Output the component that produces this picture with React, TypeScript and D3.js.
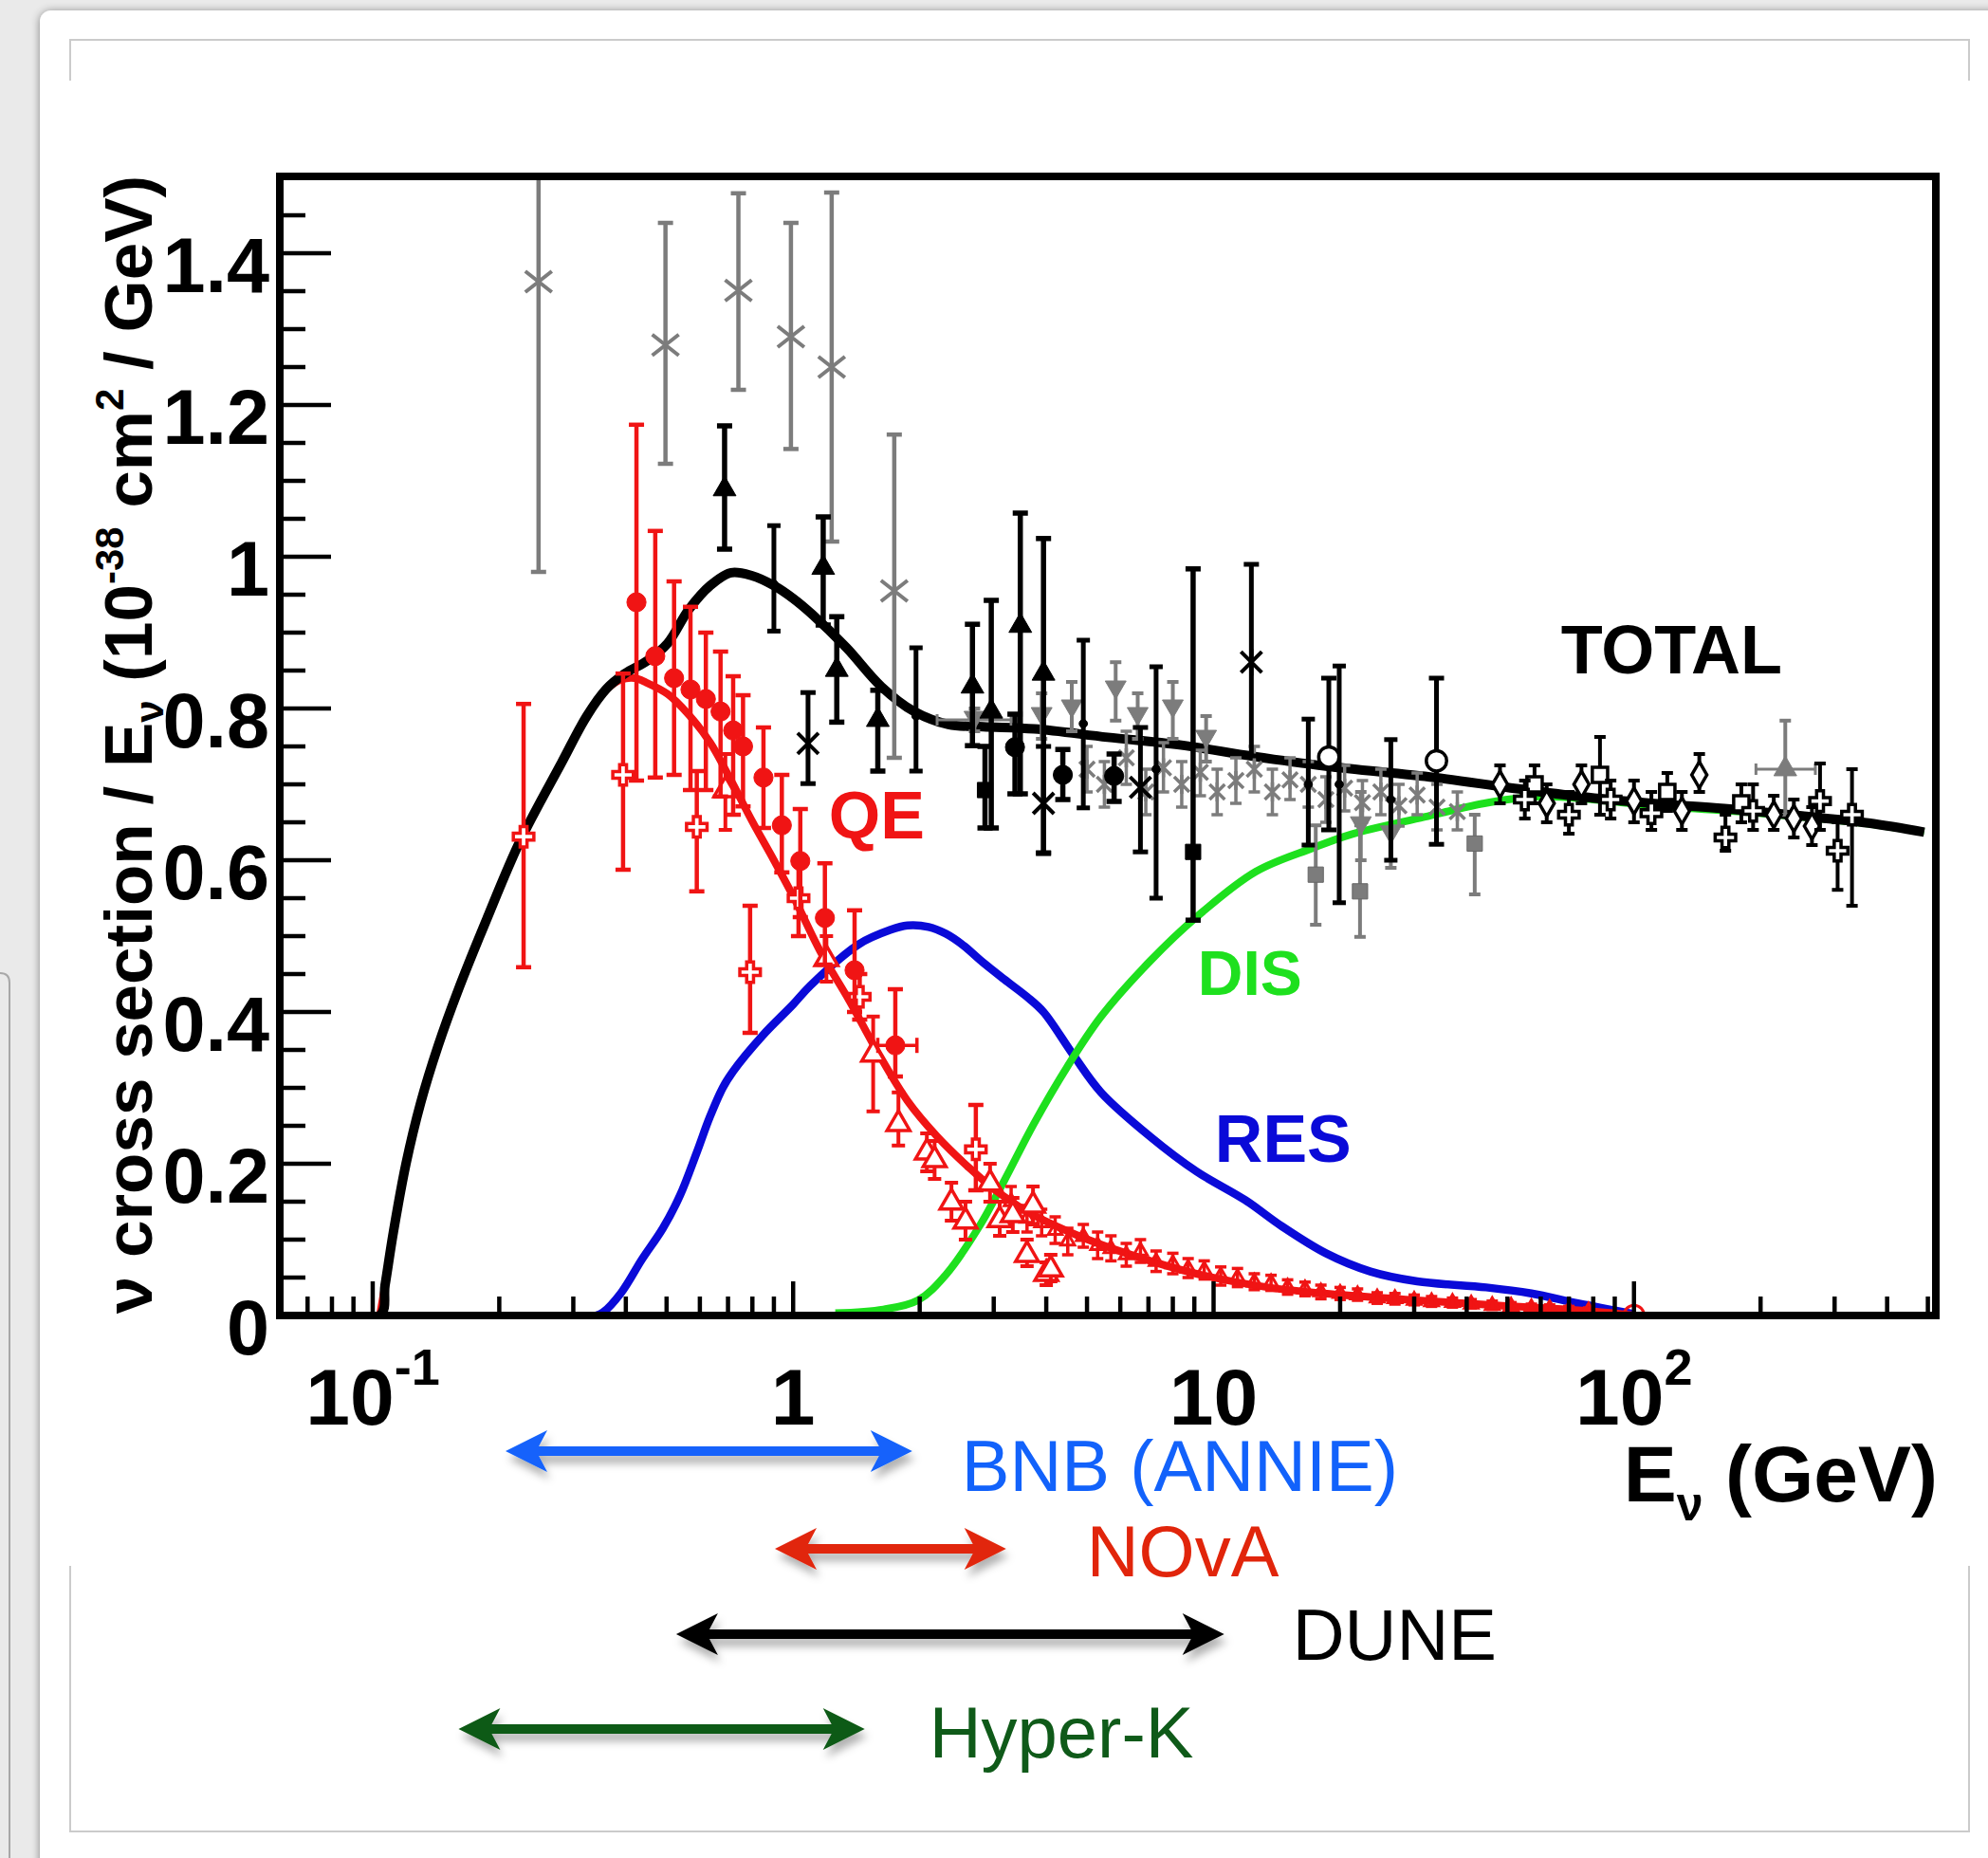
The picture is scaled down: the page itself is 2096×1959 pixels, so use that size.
import React, { useRef, useEffect } from 'react';
import * as d3 from 'd3';

// model curves: [E (GeV), sigma/E (1e-38 cm^2/GeV)]
const totalCurve = [
  [0.059, 0], [0.104, 0], [0.107, 0.04], [0.112, 0.11], [0.12, 0.2], [0.13, 0.28], [0.143, 0.355],
  [0.16, 0.43], [0.186, 0.52], [0.224, 0.625], [0.281, 0.728], [0.323, 0.79], [0.36, 0.826],
  [0.398, 0.846], [0.45, 0.863], [0.503, 0.886], [0.564, 0.93], [0.635, 0.962], [0.712, 0.979],
  [0.798, 0.975], [0.9, 0.962], [1.0, 0.945], [1.11, 0.924], [1.34, 0.88], [1.62, 0.829], [1.94, 0.796],
  [2.34, 0.779], [2.83, 0.776], [3.75, 0.773], [5.6, 0.762], [8.3, 0.752], [12.4, 0.737], [18.5, 0.724],
  [33.5, 0.709], [50, 0.696], [74, 0.684], [110, 0.675], [164, 0.668], [243, 0.659], [361, 0.649], [490, 0.637],
];
const qeCurve = [
  [0.104, 0], [0.107, 0.04], [0.112, 0.11], [0.12, 0.2], [0.13, 0.28], [0.143, 0.355], [0.16, 0.43],
  [0.186, 0.52], [0.224, 0.625], [0.281, 0.728], [0.323, 0.79], [0.36, 0.825], [0.39, 0.838], [0.42, 0.84],
  [0.448, 0.834], [0.503, 0.819], [0.564, 0.792], [0.635, 0.755], [0.712, 0.705], [0.798, 0.652], [0.9, 0.6],
  [1.01, 0.548], [1.16, 0.48], [1.36, 0.415], [1.6, 0.344], [1.87, 0.283], [2.2, 0.236], [2.63, 0.194],
  [3.03, 0.165], [3.63, 0.136], [4.73, 0.106], [6.2, 0.082], [9.1, 0.055], [13.5, 0.037], [18.3, 0.029],
  [30.5, 0.02], [45, 0.014], [64.6, 0.009], [85, 0.004], [100, 0],
];
const resCurve = [
  [0.34, 0], [0.353, 0.004], [0.39, 0.03], [0.437, 0.074], [0.49, 0.115], [0.538, 0.158], [0.59, 0.215],
  [0.633, 0.261], [0.68, 0.3], [0.72, 0.322], [0.846, 0.369], [1.0, 0.41], [1.1, 0.435], [1.43, 0.489],
  [1.7, 0.508], [1.87, 0.514], [2.1, 0.512], [2.31, 0.503], [2.55, 0.487], [2.79, 0.468], [3.18, 0.443],
  [3.6, 0.42], [3.94, 0.4], [4.63, 0.344], [5.4, 0.294], [7.06, 0.236], [9.1, 0.19], [11.9, 0.152],
  [14.5, 0.118], [18.5, 0.082], [23.6, 0.058], [30.5, 0.045], [44.5, 0.037], [57, 0.029], [73.5, 0.016], [100, 0.002],
];
const disCurve = [
  [1.26, 0.003], [1.64, 0.008], [1.98, 0.02], [2.31, 0.054], [2.79, 0.12], [3.18, 0.178], [3.74, 0.253],
  [4.49, 0.328], [5.4, 0.394], [7.06, 0.467], [9.1, 0.525], [12.6, 0.585], [17.2, 0.616], [21.2, 0.634],
  [31.7, 0.657], [45, 0.676], [60, 0.684], [80, 0.68], [110, 0.672], [200, 0.662], [350, 0.649], [490, 0.637],
];

// measurements: [E, value, low, high, (E low, E high)]
const grayXPts = [
  [0.248, 1.3625, 0.98, 1.8], [0.497, 1.279, 1.1225, 1.44], [0.741, 1.351, 1.22, 1.479],
  [0.988, 1.29, 1.142, 1.44], [1.235, 1.25, 1.02, 1.48], [1.74, 0.955, 0.735, 1.161],
];
const blackTriPts = [
  [0.687, 1.089, 1.01, 1.1725], [1.179, 0.9855, 0.91, 1.0525], [1.27, 0.851, 0.782, 0.921],
  [1.59, 0.785, 0.7175, 0.824], [2.67, 0.829, 0.751, 0.911], [2.96, 0.796, 0.6425, 0.9425],
  [3.47, 0.909, 0.6875, 1.0575], [3.94, 0.846, 0.609, 1.024],
];
const blackDotPts = [
  [0.9, 0.964, 0.902, 1.041], [1.96, 0.79, 0.7175, 0.88], [4.9, 0.78, 0.669, 0.89], [7.3, 0.72, 0.55, 0.855],
  [16.8, 0.7, 0.62, 0.786], [19.9, 0.7, 0.544, 0.856], [26.4, 0.68, 0.6, 0.759],
];
const blackCirclePts = [[3.37, 0.749, 0.6875, 0.7925], [4.38, 0.7125, 0.68, 0.746], [5.8, 0.711, 0.6775, 0.74]];
const blackSquarePts = [[2.86, 0.6925, 0.6425, 0.75], [8.94, 0.611, 0.521, 0.984]];
const blackStarPts = [
  [1.085, 0.754, 0.701, 0.821], [3.94, 0.675, 0.61, 0.75], [6.7, 0.696, 0.611, 0.775], [12.3, 0.861, 0.7375, 0.99],
];
const grayDownTriPts = [
  [2.7, 0.785, 0.77, 0.8, 2.2, 3.3], [3.9, 0.79, 0.76, 0.82], [4.6, 0.8, 0.77, 0.835], [5.85, 0.825, 0.784, 0.861],
  [6.6, 0.79, 0.76, 0.82], [8.0, 0.8, 0.76, 0.835], [9.6, 0.76, 0.73, 0.79], [22.4, 0.646, 0.6, 0.69], [26.4, 0.634, 0.59, 0.68],
];
const graySquarePts = [[17.5, 0.581, 0.515, 0.646], [22.3, 0.559, 0.499, 0.646], [41.8, 0.622, 0.555, 0.66]];
const grayStarPts = [
  [5.0, 0.72, 0.69, 0.75], [5.5, 0.7, 0.67, 0.73], [6.2, 0.735, 0.7, 0.77], [6.9, 0.69, 0.66, 0.72],
  [7.6, 0.722, 0.69, 0.755], [8.4, 0.7, 0.67, 0.73], [9.3, 0.716, 0.685, 0.745], [10.2, 0.69, 0.66, 0.72],
  [11.3, 0.705, 0.675, 0.735], [12.5, 0.72, 0.69, 0.75], [13.8, 0.69, 0.66, 0.72], [15.2, 0.706, 0.68, 0.735],
  [16.8, 0.7, 0.67, 0.73], [18.5, 0.68, 0.65, 0.71], [20.5, 0.695, 0.665, 0.725], [22.6, 0.676, 0.65, 0.705],
  [25, 0.69, 0.66, 0.72], [27.6, 0.672, 0.645, 0.7], [30.5, 0.686, 0.66, 0.715], [34, 0.67, 0.64, 0.7], [38, 0.664, 0.64, 0.69],
];
const grayTriHPts = [[229, 0.72, 0.66, 0.784, 195, 270]];
const openCirclePts = [[18.8, 0.736, 0.64, 0.84], [33.9, 0.731, 0.621, 0.84]];
const openCrossPts = [
  [55, 0.68, 0.655, 0.705], [70, 0.66, 0.635, 0.69], [88, 0.68, 0.655, 0.705], [110, 0.662, 0.64, 0.69],
  [165, 0.63, 0.6125, 0.66], [192, 0.665, 0.64, 0.7], [277, 0.678, 0.64, 0.7275], [305, 0.6125, 0.561, 0.65], [330, 0.66, 0.54, 0.72],
];
const openDiamondPts = [
  [48, 0.7, 0.675, 0.725], [62, 0.675, 0.65, 0.7], [75, 0.7, 0.675, 0.725], [100, 0.678, 0.65, 0.705],
  [130, 0.665, 0.64, 0.69], [143, 0.7125, 0.69, 0.74], [215, 0.66, 0.64, 0.685], [240, 0.655, 0.63, 0.68], [265, 0.645, 0.62, 0.67],
];
const openSquarePts = [[58, 0.7, 0.675, 0.725], [83, 0.7125, 0.66, 0.7625], [120, 0.69, 0.665, 0.715], [180, 0.675, 0.65, 0.7]];

const redCirclePts = [
  [0.424, 0.94, 0.705, 1.174], [0.47, 0.869, 0.709, 1.034], [0.521, 0.84, 0.7125, 0.9675], [0.57, 0.825, 0.6925, 0.934],
  [0.62, 0.8125, 0.6925, 0.9], [0.672, 0.796, 0.684, 0.875], [0.72, 0.771, 0.66, 0.8425], [0.76, 0.75, 0.671, 0.8175],
  [0.85, 0.709, 0.6425, 0.775], [0.94, 0.646, 0.584, 0.7125], [1.04, 0.599, 0.525, 0.6675], [1.19, 0.524, 0.4625, 0.596],
  [1.4, 0.455, 0.4, 0.534], [1.75, 0.356, 0.315, 0.43, 1.59, 1.97],
];
const redOpenCrossPts = [
  [0.2285, 0.631, 0.459, 0.806], [0.394, 0.7125, 0.5875, 0.846], [0.59, 0.644, 0.559, 0.7175],
  [0.79, 0.4525, 0.3725, 0.54], [1.03, 0.55, 0.5, 0.6], [1.44, 0.42, 0.39, 0.45], [2.72, 0.219, 0.165, 0.2775],
];
const redOpenTriPts = [
  [0.69, 0.6925, 0.64, 0.74], [1.2, 0.47, 0.44, 0.5], [1.55, 0.344, 0.269, 0.394], [1.78, 0.2525, 0.224, 0.294],
  [2.08, 0.215, 0.19, 0.24], [2.17, 0.205, 0.18, 0.23], [2.38, 0.149, 0.125, 0.175], [2.57, 0.124, 0.1, 0.15],
  [2.94, 0.174, 0.15, 0.2], [3.1, 0.126, 0.105, 0.15], [3.33, 0.1325, 0.11, 0.155], [3.6, 0.08, 0.065, 0.1],
  [3.72, 0.145, 0.12, 0.17], [4.0, 0.055, 0.04, 0.07], [4.1, 0.061, 0.045, 0.08],
];
const redTailPts = [
  [3.3, 0.15, 0.13, 0.17], [3.6, 0.128, 0.11, 0.145], [3.9, 0.122, 0.105, 0.14], [4.2, 0.112, 0.095, 0.13],
  [4.5, 0.098, 0.08, 0.115], [4.9, 0.104, 0.09, 0.12], [5.3, 0.092, 0.075, 0.11], [5.7, 0.088, 0.072, 0.105],
  [6.2, 0.08, 0.065, 0.095], [6.7, 0.085, 0.07, 0.1], [7.3, 0.071, 0.058, 0.085], [8, 0.068, 0.055, 0.082],
  [8.7, 0.062, 0.05, 0.075], [9.5, 0.06, 0.048, 0.072], [10.4, 0.052, 0.04, 0.064], [11.4, 0.05, 0.038, 0.062],
  [12.5, 0.044, 0.034, 0.055], [13.7, 0.043, 0.033, 0.053], [15, 0.037, 0.028, 0.047], [16.5, 0.035, 0.026, 0.044],
  [18, 0.031, 0.022, 0.04], [20, 0.029, 0.021, 0.037], [22, 0.027, 0.02, 0.035], [24.5, 0.023, 0.016, 0.03],
  [27, 0.022, 0.015, 0.029], [30, 0.02, 0.014, 0.027], [33, 0.018, 0.012, 0.025], [37, 0.017, 0.011, 0.023],
  [41, 0.015, 0.01, 0.021], [46, 0.013, 0.008, 0.019], [51, 0.012, 0.007, 0.017], [57, 0.01, 0.006, 0.015],
  [63, 0.009, 0.005, 0.014], [70, 0.007, 0.003, 0.012], [78, 0.006, 0.002, 0.01],
];
const redEndPts = [[100, 0]];

// axes
const yTicks = [0, 0.2, 0.4, 0.6, 0.8, 1, 1.2, 1.4];
const yTickLabels = ['0', '0.2', '0.4', '0.6', '0.8', '1', '1.2', '1.4'];
const xTicks = [0.1, 1, 10, 100];
const xTickBase = ['10', '1', '10', '10'];
const xTickSup = ['-1', '', '', '2'];

// curve labels [E, value]
const curveNames = ['TOTAL', 'QE', 'DIS', 'RES'];
const curveLabelAt = [[67, 0.846], [1.216, 0.629], [9.17, 0.4225], [10.07, 0.2025]];

// beam energy ranges (GeV)
const beamNames = ['BNB (ANNIE)', 'NOvA', 'DUNE', 'Hyper-K'];
const beamRanges = [[0.207, 1.92], [0.905, 3.21], [0.527, 10.6], [0.16, 1.48]];
const beamColors = ['#1262fb', '#e1250b', '#000000', '#0f5a19'];

const W = 2096;
const H = 1959;
const FONT = '"Liberation Sans", Arial, Helvetica, sans-serif';
const RED = '#f01414';
const BLUE = '#0a0ad8';
const GREEN = '#1ee01e';

const App = () => {
  const svgRef = useRef<SVGSVGElement>(null);

  useEffect(() => {
    const svg = d3.select(svgRef.current);
    svg.selectAll('*').remove();

    const frame = { left: 295, right: 2041, top: 186, bottom: 1387 };
    const x = d3.scaleLog().domain([0.0595, 525]).range([293, 2042]);
    const y = d3.scaleLinear().domain([0, 1.5]).range([1387, 187]);

    const defs = svg.append('defs');
    const ps = defs.append('filter').attr('id', 'panelShadow')
      .attr('x', '-5%').attr('y', '-5%').attr('width', '110%').attr('height', '110%');
    ps.append('feDropShadow').attr('dx', 0).attr('dy', 1).attr('stdDeviation', 5)
      .attr('flood-color', '#000').attr('flood-opacity', 0.45);
    const as = defs.append('filter').attr('id', 'arrowShadow')
      .attr('x', '-10%').attr('y', '-60%').attr('width', '130%').attr('height', '260%');
    as.append('feDropShadow').attr('dx', 3).attr('dy', 8).attr('stdDeviation', 4)
      .attr('flood-color', '#000').attr('flood-opacity', 0.3);
    defs.append('clipPath').attr('id', 'plotClip').append('rect')
      .attr('x', frame.left).attr('y', frame.top)
      .attr('width', frame.right - frame.left).attr('height', frame.bottom - frame.top);

    // slide background
    svg.append('rect').attr('width', W).attr('height', H).attr('fill', '#eaeaea');
    svg.append('path').attr('d', 'M0,1026 Q10,1026 10,1036 L10,1959')
      .attr('fill', 'none').attr('stroke', '#a8a8a8').attr('stroke-width', 2);
    svg.append('rect').attr('x', 42).attr('y', 11).attr('width', W + 40).attr('height', H + 40)
      .attr('rx', 12).attr('fill', '#fff').attr('filter', 'url(#panelShadow)');
    const gl = svg.append('g').attr('stroke', '#cbcbcb').attr('stroke-width', 2).attr('fill', 'none');
    gl.append('path').attr('d', 'M74,85 V42 H2076 V85');
    gl.append('path').attr('d', 'M74,1651 V1931 H2076 V1651');

    // curves
    const plot = svg.append('g').attr('clip-path', 'url(#plotClip)');
    const line = d3.line<number[]>().x(d => x(d[0])).y(d => y(d[1])).curve(d3.curveCatmullRom.alpha(0.5));
    const curves: [number[][], string, number][] = [
      [resCurve, BLUE, 8.5], [disCurve, GREEN, 8], [qeCurve, RED, 8], [totalCurve, '#000', 10],
    ];
    curves.forEach(([data, color, w]) => {
      plot.append('path').datum(data).attr('d', line).attr('fill', 'none')
        .attr('stroke', color).attr('stroke-width', w).attr('stroke-linejoin', 'round');
    });

    // markers
    const sym = (t: any, s: number) => d3.symbol().type(t).size(s)() as string;
    const shapes: Record<string, string> = {
      circle: sym(d3.symbolCircle, 320),
      dot: sym(d3.symbolCircle, 60),
      tri: sym(d3.symbolTriangle, 250),
      triSmall: sym(d3.symbolTriangle, 90),
      triDown: 'M0,10L-11,-9L11,-9Z',
      square: sym(d3.symbolSquare, 260),
      diamond: sym(d3.symbolDiamond, 220),
      cross: sym(d3.symbolCross, 260),
      x: 'M-14,-11L14,11M-14,11L14,-11',
      star: 'M-11,-11L11,11M-11,11L11,-11M0,-14L0,14',
      starSmall: 'M-8,-8L8,8M-8,8L8,-8M0,-10L0,10',
      ring: sym(d3.symbolCircle, 360),
    };
    const drawPts = (pts: number[][], o: any) => {
      const g = plot.append('g');
      pts.forEach(p => {
        const [e, v, lo, hi, elo, ehi] = p;
        const cx = x(e);
        const cy = y(v);
        if (lo !== undefined) {
          g.append('line').attr('x1', cx).attr('x2', cx).attr('y1', y(lo)).attr('y2', y(hi))
            .attr('stroke', o.bar).attr('stroke-width', o.bw);
          [lo, hi].forEach(b => g.append('line').attr('x1', cx - o.cap).attr('x2', cx + o.cap)
            .attr('y1', y(b)).attr('y2', y(b)).attr('stroke', o.bar).attr('stroke-width', o.bw));
        }
        if (elo !== undefined) {
          g.append('line').attr('x1', x(elo)).attr('x2', x(ehi)).attr('y1', cy).attr('y2', cy)
            .attr('stroke', o.bar).attr('stroke-width', o.bw - 1);
          [elo, ehi].forEach(b => g.append('line').attr('x1', x(b)).attr('x2', x(b))
            .attr('y1', cy - o.cap).attr('y2', cy + o.cap).attr('stroke', o.bar).attr('stroke-width', o.bw - 1));
        }
        g.append('path').attr('d', shapes[o.shape]).attr('transform', `translate(${cx},${cy})`)
          .attr('fill', o.fill).attr('stroke', o.stroke).attr('stroke-width', o.sw);
      });
    };
    const GRAY = '#7c7c7c';
    drawPts(grayXPts, { shape: 'x', fill: 'none', stroke: GRAY, sw: 4, bar: GRAY, bw: 4.5, cap: 8 });
    drawPts(grayStarPts, { shape: 'starSmall', fill: 'none', stroke: GRAY, sw: 3.5, bar: GRAY, bw: 3.5, cap: 6 });
    drawPts(grayDownTriPts, { shape: 'triDown', fill: GRAY, stroke: GRAY, sw: 1, bar: GRAY, bw: 4, cap: 6 });
    drawPts(graySquarePts, { shape: 'square', fill: GRAY, stroke: '#666', sw: 1, bar: GRAY, bw: 4, cap: 6 });
    drawPts(grayTriHPts, { shape: 'tri', fill: GRAY, stroke: GRAY, sw: 1, bar: GRAY, bw: 4, cap: 6 });
    drawPts(blackDotPts, { shape: 'dot', fill: '#000', stroke: '#000', sw: 1, bar: '#000', bw: 5, cap: 7 });
    drawPts(blackTriPts, { shape: 'tri', fill: '#000', stroke: '#000', sw: 1, bar: '#000', bw: 5.5, cap: 8 });
    drawPts(blackCirclePts, { shape: 'circle', fill: '#000', stroke: '#000', sw: 1, bar: '#000', bw: 5.5, cap: 8 });
    drawPts(blackSquarePts, { shape: 'square', fill: '#000', stroke: '#000', sw: 1, bar: '#000', bw: 5.5, cap: 8 });
    drawPts(blackStarPts, { shape: 'star', fill: 'none', stroke: '#000', sw: 4, bar: '#000', bw: 5, cap: 8 });
    drawPts(openCirclePts, { shape: 'ring', fill: '#fff', stroke: '#000', sw: 3.5, bar: '#000', bw: 5, cap: 8 });
    drawPts(openDiamondPts, { shape: 'diamond', fill: '#fff', stroke: '#000', sw: 3.5, bar: '#000', bw: 4, cap: 6 });
    drawPts(openSquarePts, { shape: 'square', fill: '#fff', stroke: '#000', sw: 3.5, bar: '#000', bw: 4, cap: 6 });
    drawPts(openCrossPts, { shape: 'cross', fill: '#fff', stroke: '#000', sw: 3.5, bar: '#000', bw: 4, cap: 6 });
    drawPts(redTailPts, { shape: 'triSmall', fill: 'none', stroke: RED, sw: 3, bar: RED, bw: 3.5, cap: 6 });
    drawPts(redOpenTriPts, { shape: 'tri', fill: '#fff', stroke: RED, sw: 3.5, bar: RED, bw: 4, cap: 7 });
    drawPts(redOpenCrossPts, { shape: 'cross', fill: '#fff', stroke: RED, sw: 3.5, bar: RED, bw: 4.5, cap: 8 });
    drawPts(redCirclePts, { shape: 'circle', fill: RED, stroke: RED, sw: 1, bar: RED, bw: 4.5, cap: 8 });
    drawPts(redEndPts, { shape: 'ring', fill: 'none', stroke: RED, sw: 3 });

    // frame and ticks
    const axes = svg.append('g').attr('stroke', '#000');
    axes.append('rect').attr('x', frame.left).attr('y', frame.top)
      .attr('width', frame.right - frame.left).attr('height', frame.bottom - frame.top)
      .attr('fill', 'none').attr('stroke-width', 8);
    d3.range(1, 30).forEach(i => {
      const v = i * 0.05;
      const major = i % 4 === 0;
      axes.append('line').attr('x1', frame.left).attr('x2', frame.left + (major ? 54 : 27))
        .attr('y1', y(v)).attr('y2', y(v)).attr('stroke-width', 4.5);
    });
    const xMinor: number[] = [];
    [-2, -1, 0, 1, 2].forEach(n => d3.range(2, 10).forEach(k => {
      const v = k * Math.pow(10, n);
      if (v > 0.0595 && v < 522) xMinor.push(v);
    }));
    xMinor.forEach(v => axes.append('line').attr('x1', x(v)).attr('x2', x(v))
      .attr('y1', frame.bottom).attr('y2', frame.bottom - 20).attr('stroke-width', 4.5));
    xTicks.forEach(v => axes.append('line').attr('x1', x(v)).attr('x2', x(v))
      .attr('y1', frame.bottom).attr('y2', frame.bottom - 36).attr('stroke-width', 4.5));

    // tick labels
    const lab = svg.append('g').attr('font-family', FONT).attr('font-weight', 'bold').attr('fill', '#000');
    yTicks.forEach((v, i) => {
      lab.append('text').attr('x', 284).attr('y', y(v) + 41).attr('text-anchor', 'end')
        .attr('font-size', 81).text(yTickLabels[i]);
    });
    xTicks.forEach((v, i) => {
      const t = lab.append('text').attr('x', x(v)).attr('y', 1502).attr('text-anchor', 'middle').attr('font-size', 84);
      t.append('tspan').text(xTickBase[i]);
      if (xTickSup[i]) t.append('tspan').attr('font-size', 54).attr('dy', -42).text(xTickSup[i]);
    });

    // axis titles
    const xt = lab.append('text').attr('x', 2043).attr('y', 1583).attr('text-anchor', 'end').attr('font-size', 84);
    xt.append('tspan').text('E');
    xt.append('tspan').attr('font-size', 50).attr('dy', 20).text('ν');
    xt.append('tspan').attr('dy', -20).text(' (GeV)');

    const yt = lab.append('text').attr('transform', 'translate(160,785) rotate(-90)')
      .attr('text-anchor', 'middle').attr('font-size', 71);
    yt.append('tspan').text('ν cross section / E');
    yt.append('tspan').attr('font-size', 42).attr('dy', 12).text('ν');
    yt.append('tspan').attr('dy', -12).text(' (10');
    yt.append('tspan').attr('font-size', 42).attr('dy', -30).text('-38');
    yt.append('tspan').attr('dy', 30).text(' cm');
    yt.append('tspan').attr('font-size', 42).attr('dy', -30).text('2');
    yt.append('tspan').attr('dy', 30).text(' / GeV)');

    // curve labels
    const labColors = ['#000', RED, GREEN, BLUE];
    const labSizes = [72, 70, 66, 70];
    curveNames.forEach((n, i) => {
      lab.append('text').attr('x', x(curveLabelAt[i][0])).attr('y', y(curveLabelAt[i][1]))
        .attr('font-size', labSizes[i]).attr('fill', labColors[i]).text(n);
    });

    // beam ranges below the axis
    const rowY = [1530, 1633, 1723, 1823];
    const textY = [1572, 1662, 1750, 1853];
    const textGap = [52, 85, 72, 68];
    const L = 44, hw = 22, t = 5, n = 9;
    beamNames.forEach((name, i) => {
      const x1 = x(beamRanges[i][0]);
      const x2 = x(beamRanges[i][1]);
      const yy = rowY[i];
      const d = `M${x1},${yy}L${x1 + L},${yy - hw}L${x1 + L - n},${yy - t}L${x2 - L + n},${yy - t}`
        + `L${x2 - L},${yy - hw}L${x2},${yy}L${x2 - L},${yy + hw}L${x2 - L + n},${yy + t}`
        + `L${x1 + L - n},${yy + t}L${x1 + L},${yy + hw}Z`;
      svg.append('path').attr('d', d).attr('fill', beamColors[i]).attr('filter', 'url(#arrowShadow)');
      svg.append('text').attr('x', x2 + textGap[i]).attr('y', textY[i])
        .attr('font-family', FONT).attr('font-size', 76).attr('fill', beamColors[i]).text(name);
    });
  }, []);

  return (
    <svg ref={svgRef} width={W} height={H}
      style={{ position: 'absolute', left: 0, top: 0, display: 'block' }} />
  );
};

export default App;
